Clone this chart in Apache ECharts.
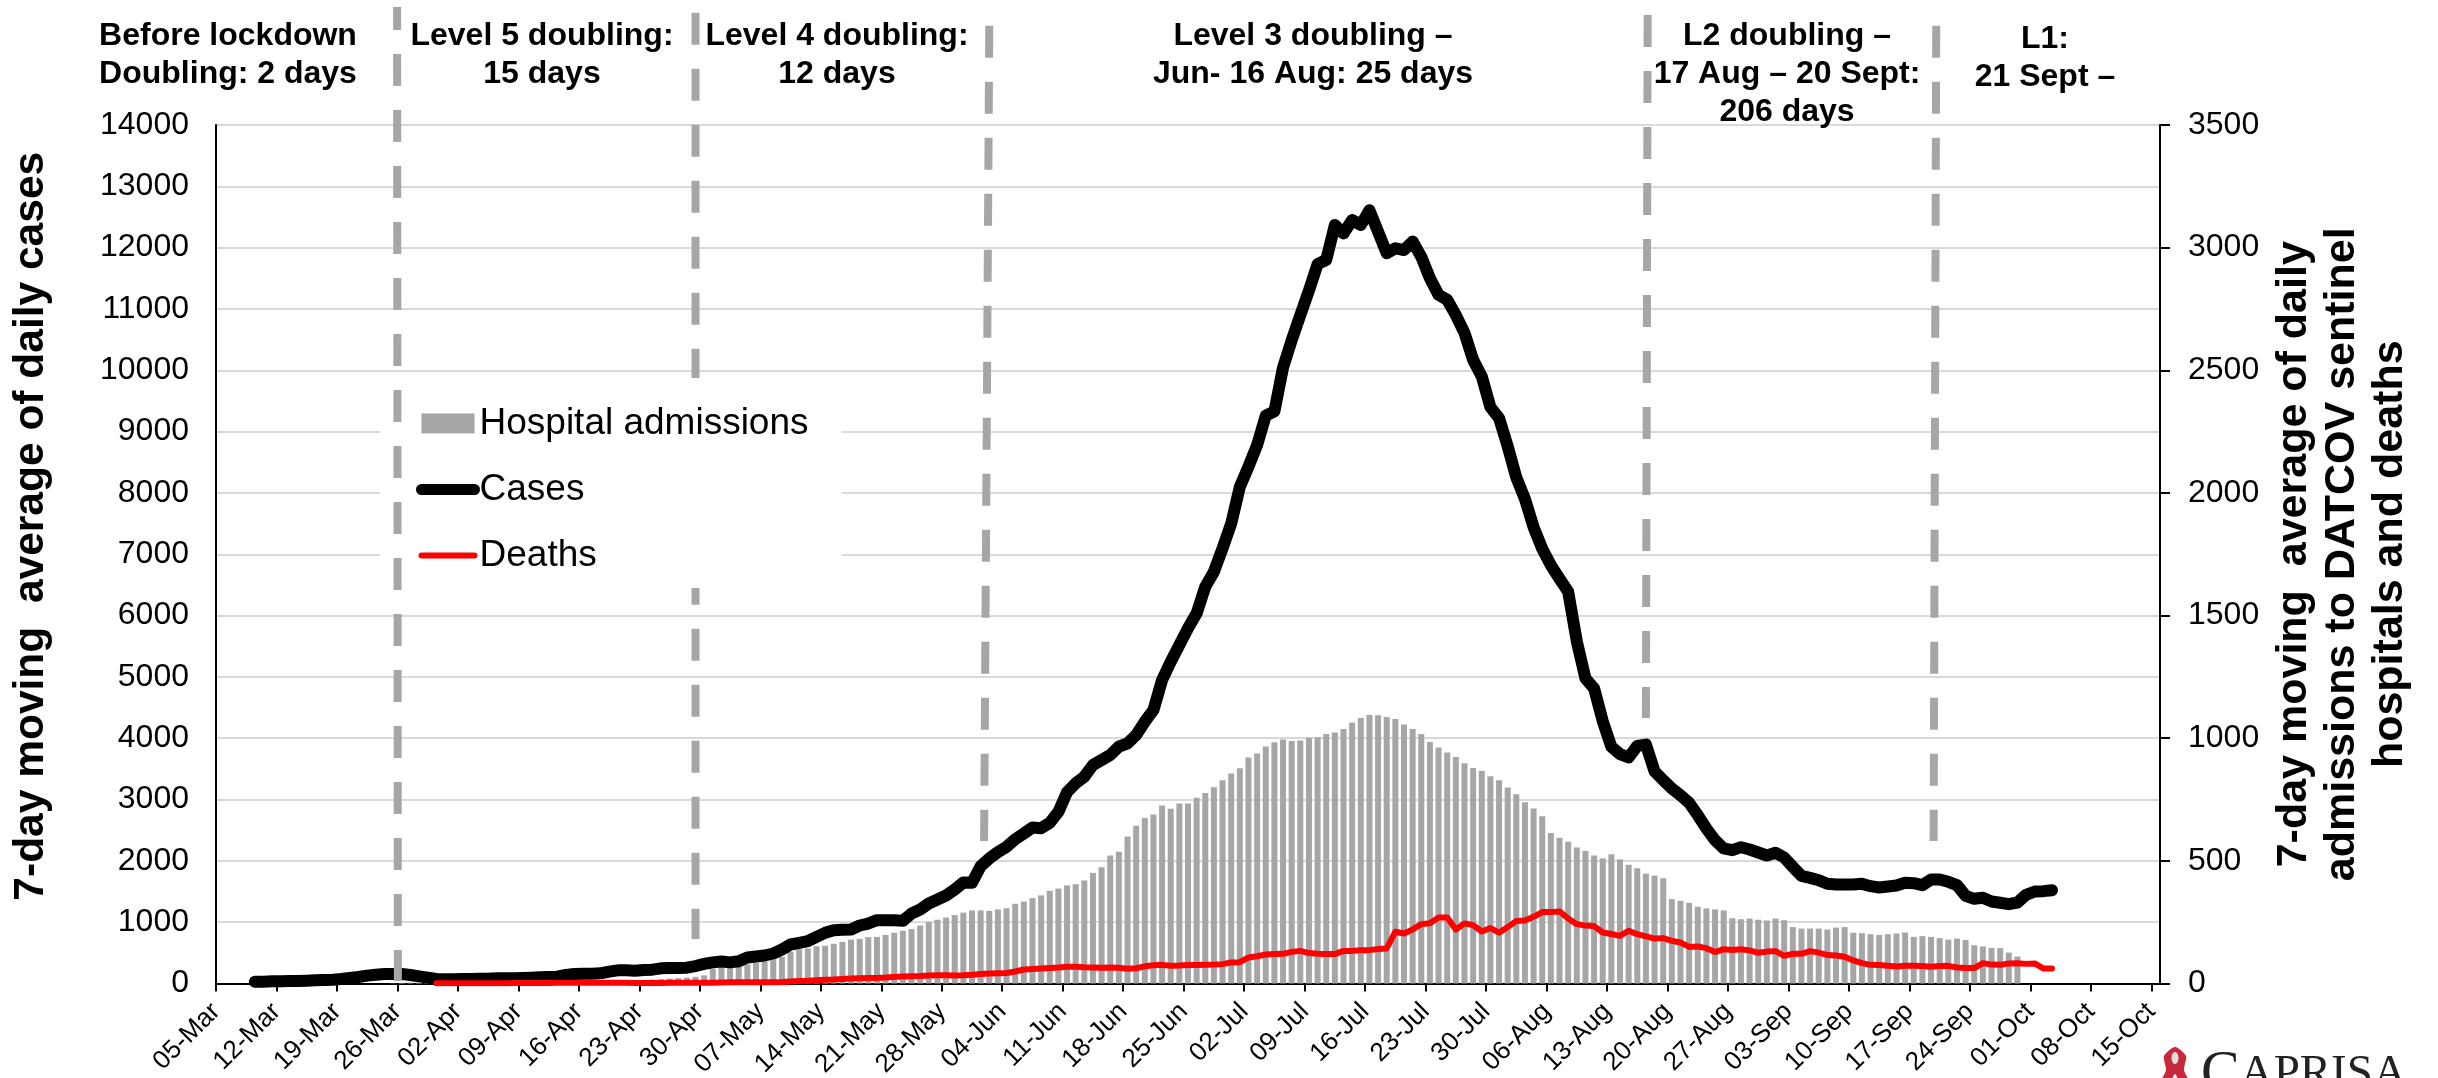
<!DOCTYPE html>
<html>
<head>
<meta charset="utf-8">
<title>Covid doubling by lockdown level</title>
<script src="https://cdn.jsdelivr.net/npm/echarts@6/dist/echarts.min.js"></script>
<style>
html, body { margin: 0; padding: 0; background: #fff; overflow: hidden; }
#main { width: 2438px; height: 1078px; }
</style>
</head>
<body>
<div id="main"></div>
<script>
var FONT = '"Liberation Sans", Arial, sans-serif';

// one entry per day, 05-Mar to 15-Oct
var monthNames = ['Mar', 'Apr', 'May', 'Jun', 'Jul', 'Aug', 'Sep', 'Oct'];
var monthDays = [31, 30, 31, 30, 31, 31, 30, 15];
var days = [];
monthNames.forEach(function (m, k) {
    for (var d = k == 0 ? 5 : 1; d <= monthDays[k]; d++) {
        days.push((d < 10 ? '0' : '') + d + '-' + m);
    }
});

// positions of the weekly ticks, counted in days from 05-Mar
var tickDays = [0, 7, 14, 21, 28, 35, 42, 49, 56, 63, 70, 77, 84, 91, 98, 105, 112, 119, 126, 133, 140, 147, 154, 161, 168, 175, 182, 189, 196, 203, 210, 217, 224];

var cases = [null, null, null, null,
    30, 30, 35, 35, 40, 40, 46, 52, 57, 62, 73, 90, 106, 128, 144, 155,
    155, 155, 139, 117, 95, 73, 68, 71, 73, 73, 79, 79, 84, 84, 84, 90,
    95, 101, 106, 111, 139, 155, 160, 160, 166, 193, 215, 215, 209, 220,
    226, 247, 253, 253, 258, 285, 320, 345, 360, 345, 364, 424, 440, 457,
    489, 554, 636, 663, 690, 761, 826, 870, 875, 881, 946, 978, 1033, 1033,
    1033, 1022, 1142, 1207, 1305, 1370, 1435, 1533, 1647, 1642, 1913, 2039,
    2142, 2229, 2354, 2446, 2544, 2533, 2620, 2800, 3120, 3264, 3373, 3563,
    3645, 3726, 3862, 3917, 4052, 4270, 4460, 4949, 5248, 5520, 5793, 6037,
    6471, 6716, 7097, 7500, 8100, 8430, 8780, 9260, 9330, 10045, 10490, 10900,
    11300, 11730, 11800, 12370, 12230, 12450, 12370, 12610, 12260, 11910, 11990, 11960,
    12100, 11850, 11500, 11230, 11150, 10900, 10610, 10170, 9900, 9400, 9220, 8760,
    8250, 7900, 7440, 7090, 6820, 6600, 6390, 5580, 4976, 4813, 4280, 3860,
    3740, 3686, 3875, 3895, 3460, 3316, 3180, 3071, 2946, 2745, 2528, 2337,
    2202, 2174, 2223, 2185, 2136, 2087, 2131, 2055, 1903, 1756, 1723, 1685,
    1625, 1614, 1614, 1614, 1625, 1587, 1566, 1582, 1598, 1642, 1636, 1604,
    1696, 1696, 1658, 1604, 1430, 1381, 1397, 1337, 1316, 1294, 1321, 1446,
    1500, 1506, 1522];

var admissions = [null, null, null, null, null, null, null, null, null, null,
    null, null, null, null, null, null, null, null, null, null,
    1, 3, 4, 3, 2, 1, 1, 1, 1, 2, 2, 2, 2, 3, 3, 3, 4, 4, 5, 5,
    6, 6, 7, 8, 9, 10, 11, 12, 13, 14, 16, 18, 20, 22, 24, 27, 33, 60, 64, 68,
    72, 78, 84, 90, 98, 109, 129, 140, 143, 152, 154, 162, 170, 179, 182, 189,
    190, 198, 207, 215, 222, 236, 250, 260, 269, 279, 289, 298, 298, 296, 302, 307,
    325, 334, 348, 359, 378, 387, 400, 405, 420, 451, 474, 522, 537, 599, 643, 675,
    689, 726, 712, 734, 734, 757, 777, 800, 829, 856, 878, 921, 938, 966, 984, 995,
    989, 991, 1002, 1004, 1017, 1023, 1038, 1064, 1082, 1095, 1094, 1086, 1078, 1056, 1038, 1017,
    985, 962, 942, 923, 898, 879, 866, 845, 829, 799, 772, 739, 713, 682, 614, 594,
    578, 554, 540, 522, 510, 527, 506, 484, 470, 448, 440, 429, 344, 337, 329, 313,
    306, 302, 298, 266, 262, 265, 260, 257, 265, 258, 230, 224, 224, 224, 220, 228,
    230, 207, 205, 201, 198, 201, 204, 208, 190, 193, 190, 185, 179, 183, 177, 156,
    151, 145, 144, 126, 110];

var deaths = [null, null, null, null, null, null, null, null, null, null,
    null, null, null, null, null, null, null, null, null, null,
    null, null, null, null, null,
    1, 1, 1, 1, 1, 1, 1, 1, 1, 2, 2, 2, 2, 2, 3, 3, 3, 3, 3, 3,
    3, 3, 3, 2, 2, 2, 2, 3, 3, 3, 3, 3, 3, 4, 5, 5, 5, 5, 5, 5,
    6, 8, 10, 11, 13, 15, 16, 18, 20, 21, 22, 22, 24, 27, 29, 30, 31, 33, 34, 34,
    33, 34, 36, 39, 41, 42, 43, 49, 57, 59, 61, 63, 65, 68, 68, 66, 65, 64, 65, 64,
    60, 62, 70, 74, 76, 72, 73, 75, 75, 76, 77, 79, 86, 87, 106, 111, 118, 120, 121, 129,
    133, 124, 121, 120, 120, 133, 133, 136, 136, 141, 143, 211, 204, 220, 242, 246, 269, 269, 220, 245,
    238, 212, 226, 207, 230, 255, 257, 272, 291, 291, 294, 265, 242, 236, 234, 208, 202, 194, 215, 201,
    192, 183, 185, 174, 167, 149, 151, 144, 128, 140, 137, 140, 135, 125, 130, 132, 113, 121, 121, 132,
    126, 116, 114, 109, 94, 83, 76, 75, 72, 69, 72, 72, 71, 68, 71, 72, 65, 63, 63, 83,
    77, 76, 82, 83, 80, 82, 61, 61];

// dashed level changes: day at foot, cases at foot, day at head, cases at head
var levelChanges = [
    [21.05, 41, 20.96, 15925],
    [55.5, 726, 55.5, 15830],
    [88.9, 2324, 89.5, 15618],
    [165.5, 4329, 165.7, 15795],
    [198.8, 2324, 199.1, 15618]
];

var levelNotes = [
    'Before lockdown\nDoubling: 2 days',
    'Level 5 doubling:\n15 days',
    'Level 4 doubling:\n12 days',
    'Level 3 doubling \u2013\nJun- 16 Aug: 25 days',
    'L2 doubling \u2013\n17 Aug \u2013 20 Sept:\n206 days',
    'L1:\n21 Sept \u2013'
];
var levelNoteX = [228, 542, 837, 1313, 1787, 2045];
var levelNoteY = [17, 17, 17, 17, 17, 20];

var mChart = echarts.init(document.getElementById('main'));

function renderLevel(params, api) {
    var foot = api.coord([api.value(0), api.value(1)]);
    var head = api.coord([api.value(2), api.value(3)]);
    return {
        type: 'line',
        shape: {x1: head[0], y1: head[1], x2: foot[0], y2: foot[1]},
        style: {
            stroke: '#a6a6a6',
            lineWidth: 8,
            lineDash: [32, 24],
            lineDashOffset: api.value(3) > 15900 ? 9 : 0,
            fill: null
        }
    };
}

var graphicItems = levelNotes.map(function (txt, i) {
    return {
        type: 'text',
        x: levelNoteX[i],
        y: levelNoteY[i],
        z: 10,
        style: {
            text: txt,
            font: 'bold 32px ' + FONT,
            fill: '#000',
            textAlign: 'center',
            textVerticalAlign: 'top',
            lineHeight: 38
        }
    };
});
// logo in the corner, cropped by the page edge
graphicItems.push({
    type: 'text',
    x: 2201,
    y: 1046,
    z: 10,
    style: {
        text: '{a|C}{b|APRISA}',
        fill: '#222',
        rich: {
            a: {font: '58px "Liberation Serif", serif', fill: '#222'},
            b: {font: '47px "Liberation Serif", serif', fill: '#222'}
        }
    }
});
graphicItems.push({
    type: 'polygon',
    z: 10,
    shape: {
        points: [[2175, 1047], [2164, 1056], [2166, 1070], [2161, 1082], [2170, 1082], [2175, 1074], [2180, 1082], [2189, 1082], [2184, 1070], [2186, 1056]],
        smooth: 0.25
    },
    style: {fill: '#c8283c'}
});
graphicItems.push({
    type: 'ellipse',
    z: 11,
    shape: {cx: 2175, cy: 1058, rx: 3.5, ry: 6},
    style: {fill: '#ddd'}
});

function plainNumber(v) {
    return String(v);
}

var option = {
    animation: false,
    backgroundColor: '#fff',
    textStyle: {fontFamily: FONT},
    grid: {left: 216, right: 278, top: 125, bottom: 94.5, containLabel: false, outerBoundsMode: 'none'},
    legend: {
        show: true,
        left: 380,
        top: 378,
        z: 6,
        orient: 'vertical',
        data: [
            {name: 'Hospital admissions', icon: 'rect'},
            {name: 'Cases', itemStyle: {opacity: 0}, lineStyle: {width: 11, cap: 'round'}},
            {name: 'Deaths', itemStyle: {opacity: 0}, lineStyle: {width: 6, cap: 'round'}}
        ],
        backgroundColor: '#fff',
        padding: [27, 33, 14, 36],
        itemGap: 29,
        itemWidth: 53,
        itemHeight: 20,
        selectedMode: false,
        textStyle: {fontSize: 37, color: '#000', fontFamily: FONT}
    },
    xAxis: [{
        // daily bands that the marks sit in
        type: 'category',
        data: days,
        boundaryGap: true,
        axisLine: {show: true, onZero: false, lineStyle: {color: '#000', width: 2}},
        axisTick: {show: false},
        axisLabel: {show: false},
        splitLine: {show: false}
    }, {
        // weekly ticks and labels, and the level change lines
        type: 'value',
        position: 'bottom',
        min: 0,
        max: 225,
        axisLine: {show: false},
        axisTick: {show: true, customValues: tickDays, length: 8, lineStyle: {color: '#000', width: 2}},
        axisLabel: {
            show: true,
            customValues: tickDays,
            rotate: 45,
            margin: 24,
            fontSize: 26,
            color: '#000',
            fontFamily: FONT,
            formatter: function (v) { return days[v]; }
        },
        splitLine: {show: false}
    }],
    yAxis: [{
        type: 'value',
        min: 0,
        max: 14000,
        interval: 1000,
        name: '7-day moving  average of daily cases',
        nameLocation: 'middle',
        nameGap: 163,
        nameTextStyle: {fontSize: 42.5, fontWeight: 'bold', color: '#000', fontFamily: FONT, padding: [0, 0, 0, 56]},
        axisLine: {show: true, lineStyle: {color: '#000', width: 2}},
        axisTick: {show: false},
        axisLabel: {fontSize: 32, color: '#000', margin: 27, fontFamily: FONT, formatter: plainNumber},
        splitLine: {show: true, lineStyle: {color: '#d9d9d9', width: 2}}
    }, {
        type: 'value',
        min: 0,
        max: 3500,
        interval: 500,
        position: 'right',
        name: '7-day moving  average of daily\nadmissions to DATCOV sentinel\nhospitals and deaths',
        nameLocation: 'middle',
        nameRotate: 90,
        nameGap: 110,
        nameTextStyle: {fontSize: 43, fontWeight: 'bold', color: '#000', lineHeight: 48, align: 'center', fontFamily: FONT},
        axisLine: {show: true, lineStyle: {color: '#000', width: 2}},
        axisTick: {show: true, length: 10, lineStyle: {color: '#000', width: 2}},
        axisLabel: {fontSize: 32, color: '#000', margin: 28, fontFamily: FONT, formatter: plainNumber},
        splitLine: {show: false}
    }],
    series: [{
        name: 'Hospital admissions',
        type: 'bar',
        xAxisIndex: 0,
        yAxisIndex: 1,
        data: admissions,
        barWidth: 6,
        itemStyle: {color: '#a6a6a6'},
        z: 2
    }, {
        name: 'Cases',
        type: 'line',
        xAxisIndex: 0,
        yAxisIndex: 0,
        data: cases,
        showSymbol: false,
        symbol: 'none',
        lineStyle: {color: '#000', width: 12, cap: 'round', join: 'round'},
        itemStyle: {color: '#000'},
        z: 3
    }, {
        name: 'Deaths',
        type: 'line',
        xAxisIndex: 0,
        yAxisIndex: 1,
        data: deaths,
        showSymbol: false,
        symbol: 'none',
        lineStyle: {color: '#ff0000', width: 6, cap: 'round', join: 'round'},
        itemStyle: {color: '#ff0000'},
        z: 4
    }, {
        name: 'Level changes',
        type: 'custom',
        xAxisIndex: 1,
        yAxisIndex: 0,
        data: levelChanges.slice(1),
        renderItem: renderLevel,
        encode: {x: 0, y: 1},
        clip: false,
        silent: true,
        z: 5
    }, {
        name: 'Lockdown start',
        type: 'custom',
        xAxisIndex: 1,
        yAxisIndex: 0,
        data: levelChanges.slice(0, 1),
        renderItem: renderLevel,
        encode: {x: 0, y: 1},
        clip: false,
        silent: true,
        z: 7
    }],
    graphic: graphicItems
};
mChart.setOption(option);
</script>
</body>
</html>
